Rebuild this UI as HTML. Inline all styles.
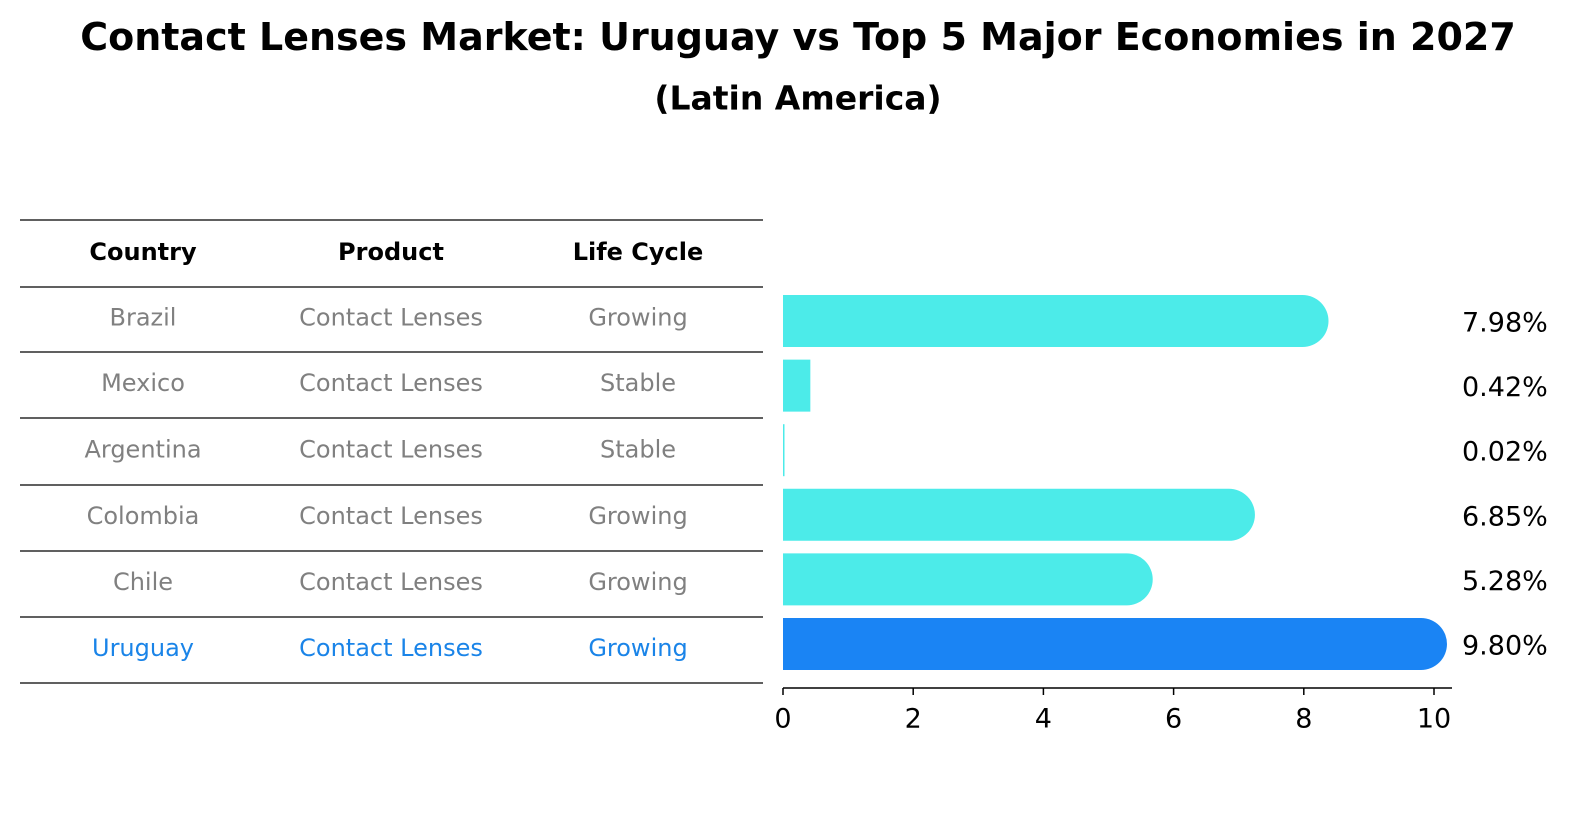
<!DOCTYPE html>
<html><head><meta charset="utf-8"><style>
body{margin:0;background:#fff;font-family:"DejaVu Sans","Liberation Sans",sans-serif;}
svg{display:block;}
svg text{font-family:"DejaVu Sans","Liberation Sans",sans-serif;}
</style></head><body>
<svg id="c" width="1586" height="823" xmlns="http://www.w3.org/2000/svg">
<text x="798" y="37" text-anchor="middle" dominant-baseline="central" font-size="38" font-weight="bold">Contact Lenses Market: Uruguay vs Top 5 Major Economies in 2027</text>
<text x="798" y="98" text-anchor="middle" dominant-baseline="central" font-size="33" font-weight="bold">(Latin America)</text>
<g id="tbl"></g>
<g id="bars"></g>
</svg>
<script>
const countries=["Brazil","Mexico","Argentina","Colombia","Chile","Uruguay"];
const products=["Contact Lenses","Contact Lenses","Contact Lenses","Contact Lenses","Contact Lenses","Contact Lenses"];
const lifecycle=["Growing","Stable","Stable","Growing","Growing","Growing"];
const values=[7.98,0.42,0.02,6.85,5.28,9.80];
const ticks=[0,2,4,6,8,10];
const NS="http://www.w3.org/2000/svg";
function mk(t,a,p,txt){const e=document.createElementNS(NS,t);for(const k in a)e.setAttribute(k,a[k]);if(txt!==undefined)e.textContent=txt;p.appendChild(e);return e;}
const tbl=document.getElementById('tbl'),bars=document.getElementById('bars');
const lines=[220,287,352,418,485,551,617,683];
lines.forEach(y=>{const l=mk('line',{x1:20,x2:763,y1:y,y2:y,stroke:'#000','stroke-width':1.2},tbl);

});
const cx=[143,391,638];
["Country","Product","Life Cycle"].forEach((h,i)=>{const t=mk('text',{x:cx[i],y:252,'text-anchor':'middle','dominant-baseline':'central','font-size':24,'font-weight':'bold'},tbl,h);

});
const X=v=>783+v*65.1;
const rowY=i=>321+i*64.6;
countries.forEach((c,i)=>{
 const last=i===countries.length-1;const col=last?'#1a84e8':'#808080';
 const cy=(lines[i+1]+lines[i+2])/2-2;
 [c,products[i],lifecycle[i]].forEach((s,j)=>{const t=mk('text',{x:cx[j],y:cy,'text-anchor':'middle','dominant-baseline':'central','font-size':24,fill:col},tbl,s);
 
 });
 const h=52,r=26,y0=rowY(i)-h/2,x0=X(0),x1=X(values[i]);
 let d;
 if(x1-x0>2*r){d=`M${x0},${y0}H${x1}A${r},${r} 0 0 1 ${x1},${y0+h}H${x0}Z`;}
 else d=`M${x0},${y0}H${Math.max(x1,x0+1.5)}V${y0+h}H${x0}Z`;
 const p=mk('path',{d:d,fill:last?'#1a84f4':'#4cebe9'},bars);
 
 
 const lt=mk('text',{x:1462,y:rowY(i)+2,'dominant-baseline':'central','font-size':27},bars,values[i].toFixed(2)+'%');
 
 
});
const ax=mk('line',{x1:783,x2:1452,y1:688,y2:688,stroke:'#000','stroke-width':1.5},bars);


ticks.forEach(t=>{const tk=mk('line',{x1:X(t),x2:X(t),y1:688,y2:695,stroke:'#000','stroke-width':1.5},bars);


const tl=mk('text',{x:X(t),y:719,'text-anchor':'middle','dominant-baseline':'central','font-size':27},bars,String(t));

});
</script>
</body></html>
